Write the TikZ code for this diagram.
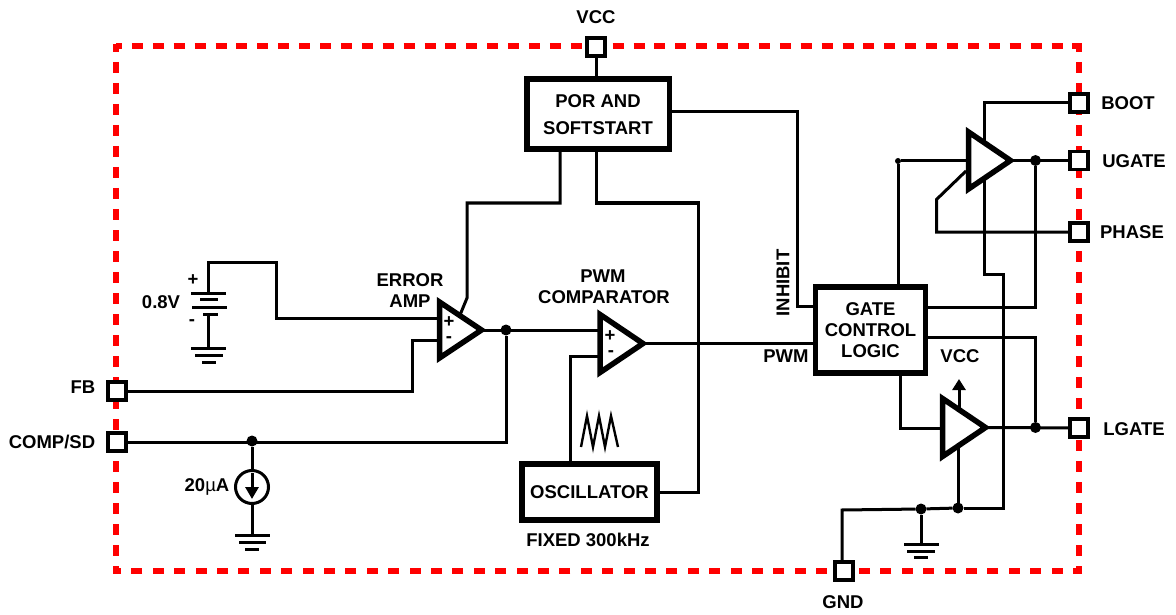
\documentclass[tikz,border=0pt]{standalone}
\usepackage{fontspec}
\setmainfont{Liberation Sans}
\usetikzlibrary{shapes.geometric,arrows.meta}
\tikzset{
  wire/.style={line width=3pt,line cap=butt,line join=miter},
  thinwire/.style={line width=2.4pt},
  border/.style={red,line width=6pt},
  pinbox/.style={draw=black,fill=white,line width=3.2pt,minimum size=18pt,inner sep=0pt,outer sep=0pt},
  block/.style={draw=black,fill=white,line width=5.5pt,inner sep=0pt,outer sep=0pt,align=center,font=\lbl},
  amp/.style={draw=black,fill=white,line width=5.5pt,isosceles triangle,isosceles triangle stretches,
     inner sep=0pt,outer sep=0pt,anchor=lower side},
  lab/.style={font=\lbl,inner sep=0pt,align=center},
  dotn/.style={circle,fill=black,inner sep=0pt,outer sep=0pt,minimum size=#1},
  dotn/.default=11pt,
  plate/.style={line width=3pt}
}
\newcommand{\lbl}{\fontsize{18.5}{21}\selectfont\bfseries}
\begin{document}
\begin{tikzpicture}[x=1pt,y=-1pt]
\useasboundingbox (0,0) rectangle (1176,615);
\fill[white] (0,0) rectangle (1176,615);
% boundary
\draw[border,dash pattern=on 11pt off 9.9pt,dash phase=5pt] (116,46) -- (1082,46);
\draw[border,dash pattern=on 11pt off 10pt,dash phase=3pt] (116,44) -- (116,574);
\draw[border,dash pattern=on 11pt off 10pt,dash phase=3pt] (1079,44) -- (1079,574);
\draw[border,dash pattern=on 11pt off 10.4pt,dash phase=2pt] (1082,571) -- (113,571);
% pins
\node[pinbox] (vcc)   at (596,47) {};
\node[pinbox] (boot)  at (1079,103) {};
\node[pinbox] (ugate) at (1079,160.5) {};
\node[pinbox] (phase) at (1079,232) {};
\node[pinbox] (lgate) at (1079,428) {};
\node[pinbox] (gnd)   at (844,571) {};
\node[pinbox] (fb)    at (117,391) {};
\node[pinbox] (comp)  at (117,442) {};
% blocks
\node[block,minimum width=142.5pt,minimum height=70pt] (por) at (598,114) {\rule{0pt}{14pt}POR AND\\[6pt]SOFTSTART};
\node[block,minimum width=135pt,minimum height=56pt] (osc) at (589.5,492) {OSCILLATOR};
\node[block,minimum width=110pt,minimum height=86pt] (gate) at (870.5,330) {GATE\\CONTROL\\LOGIC};
% amplifiers
\node[amp,minimum width=56pt,minimum height=42pt] (ea)  at (439.5,330) {};
\node[amp,minimum width=58pt,minimum height=43pt] (pwm) at (600,343.5) {};
\node[amp,minimum width=57pt,minimum height=42pt] (ud)  at (968.5,160.5) {};
\node[amp,minimum width=58pt,minimum height=43pt] (ld)  at (942.5,427.5) {};
% junctions
\node[dotn] (jerr)  at (506,330) {};
\node[dotn] (jcomp) at (252,441) {};
\node[dotn] (jug)   at (1035.5,160.5) {};
\node[dotn] (jlg)   at (1035.5,427.5) {};
\node[dotn] (jgnd)  at (921,509) {};
\node[dotn] (jvss)  at (958,508) {};
\node[dotn=6pt] (jin) at (898,161) {};
% current source
\node[circle,draw=black,line width=3pt,fill=white,minimum size=33pt,inner sep=0pt,outer sep=0pt] (isrc) at (252,487) {};
% free points
\coordinate (ea+in)  at (438,318);
\coordinate (ea-in)  at (438,340);
\coordinate (eapow)  at (460,315);
\coordinate (pw-in)  at (598,356);
\coordinate (ud-in)  at (966,171);
\coordinate (udtop)  at (984,144);
\coordinate (udbot)  at (984,178);
\coordinate (ldtop)  at (959,410);
\coordinate (ldbot)  at (958,446);
\coordinate (vccup)  at (959,379);
\coordinate (batp)   at (208,293);
\coordinate (batn)   at (208,314);
\coordinate (batg)   at (208,348);
\coordinate (isg)    at (252,535);
\coordinate (gndg)   at (921,544);
% wires
\draw[wire] (vcc) -- (vcc |- por.north);
\draw[wire] (por.east |- 0,112) -- (797,112) -- (797,306) -- (gate.west |- 0,306);
\draw[wire] (por.south -| 596,0) -- (596,203) -- (698,203) -- (698,492) -- (osc.east);
\draw[wire] (por.south -| 560,0) -- (560,203) -- (467,203) -- (467,298) -- (eapow);
\draw[wire] (batp) -- (208,262) -- (276,262) -- (276,318) -- (ea+in);
\draw[wire] (batn) -- (batg);
\draw[wire] (fb) -- (412,391) -- (412,340) -- (ea-in);
\draw[wire] (comp) -- (506,442) -- (jerr);
\draw[wire] (ea.apex) -- (598,330);
\draw[wire] (pw-in) -- (570,356) -- (570,461);
\draw[wire] (pwm.apex) -- (gate.west |- pwm.apex);
\draw[wire] (jcomp) -- (isrc);
\draw[wire] (isrc) -- (isg);
% right side
\draw[wire] (jin) -- (898,287);
\draw[wire] (jin) -- (966,161);
\draw[wire] (boot) -- (984,103) -- (udtop);
\draw[wire] (udbot) -- (984,274) -- (1003,274) -- (1003,508) -- (jvss);
\draw[wire] (jvss) -- (jgnd) -- (842,510) -- (gnd.north -| 842,0);
\draw[wire] (jgnd) -- (gndg);
\draw[wire] (ldbot) -- (jvss);
\draw[wire] (ud.apex) -- (ugate);
\draw[wire] (ld.apex) -- (lgate);
\draw[wire] (900,376) -- (900,428) -- (941,428);
\draw[wire] (gate.east |- 0,307) -- (1035.5,307) -- (jug);
\draw[wire] (gate.east |- 0,337) -- (1035.5,337) -- (jlg);
\draw[wire] (phase) -- (936.5,232) -- (936.5,199.5) -- (ud-in);
\draw[wire,-{Triangle[length=11pt,width=13pt]}] (ldtop) -- (vccup);
% plates
\draw[plate] (191,293) -- (226,293);
\draw[plate] (200,299) -- (218,299);
\draw[plate] (192,307) -- (227,307);
\draw[plate] (203,314) -- (218,314);
\draw[plate] (191,348) -- (226,348) (195,355) -- (223,355) (202,362) -- (216,362);
\draw[plate] (235,535) -- (270,535) (239,542) -- (266,542) (245,549) -- (259,549);
\draw[plate] (904,544) -- (939,544) (907,551) -- (935,551) (914,557) -- (928,557);
% source arrow
\draw[line width=3pt,-{Triangle[length=12pt,width=13pt]}] (252,473) -- (252,499);
% sawtooth
\draw[thinwire,line join=miter] (581,447) -- (587,416) -- (593,447) -- (599,416) -- (605,447) -- (611,416) -- (618,447);
% labels
\node[lab] (tvcc) at (596,17) {VCC};
\node[lab] (tboot) at (1128,103) {BOOT};
\node[lab] (tug) at (1134,161) {UGATE};
\node[lab] (tph) at (1132,232) {PHASE};
\node[lab] (tlg) at (1134,429) {LGATE};
\node[lab] (tgnd) at (843,602) {GND};
\node[lab] (tfb) at (83,387) {FB};
\node[lab] (tcomp) at (52,442) {COMP/SD};
\node[lab] (tv) at (161,302) {0.8V};
\node[lab] (tbp) at (193,280) {+};
\node[lab] (tbn) at (192,323) {-};
\node[lab] (tea) at (410,280) {ERROR};
\node[lab] (tea2) at (410,301) {AMP};
\node[lab] (tpw) at (603,276) {PWM};
\node[lab] (tpw2) at (604,297) {COMPARATOR};
\node[lab] (eap) at (449,322) {+};
\node[lab] (ean) at (449,340) {-};
\node[lab] (pwp) at (610,336) {+};
\node[lab] (pwn) at (611,354) {-};
\node[lab,rotate=90] (tinh) at (783,283) {INHIBIT};
\node[lab] (tpwm) at (786,356) {PWM};
\node[lab] (tvcc2) at (960,356) {VCC};
\node[lab] (tua) at (207,487) {20{\mdseries µ}A};
\node[lab] (tfix) at (588,540) {FIXED 300kHz};
\end{tikzpicture}
\end{document}
